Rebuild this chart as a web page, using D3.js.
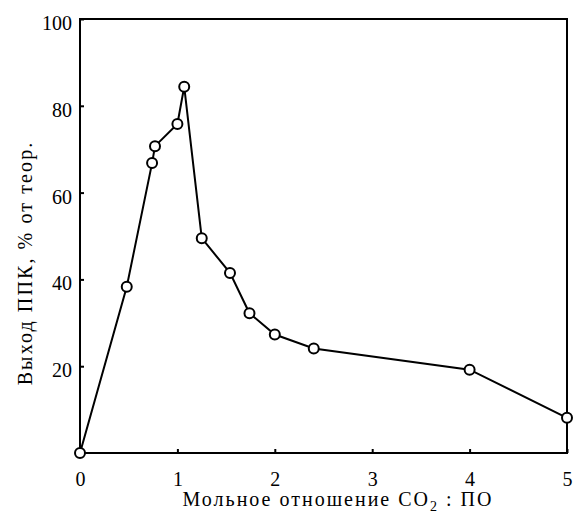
<!DOCTYPE html>
<html>
<head>
<meta charset="utf-8">
<script src="https://cdn.jsdelivr.net/npm/d3@7"></script>
<style>
  body { margin: 0; background: #fff; }
</style>
</head>
<body>
<div id="chart"></div>
<script>
// Мольное отношение CO2 : ПО
const ratio = [0, 0.48, 0.74, 0.77, 1.0, 1.07, 1.25, 1.54, 1.74, 2.0, 2.4, 4.0, 5.0];
// Выход ППК, % от теор.
const yieldPct = [0, 38.3, 66.8, 70.7, 75.8, 84.4, 49.5, 41.5, 32.2, 27.3, 24.1, 19.2, 8.1];
const xTicks = [0, 1, 2, 3, 4, 5];
const yTicks = [20, 40, 60, 80, 100];

const width = 576, height = 520;
const margin = { top: 19, right: 9, bottom: 67, left: 80 };
const serif = "Liberation Serif";

const svg = d3.select("#chart").append("svg")
  .attr("width", width)
  .attr("height", height);

const x = d3.scaleLinear().domain([0, 5]).range([margin.left, width - margin.right]);
const y = d3.scaleLinear().domain([0, 100]).range([height - margin.bottom, margin.top]);

// рамка
svg.append("rect")
  .attr("x", x(0))
  .attr("y", y(100))
  .attr("width", x(5) - x(0))
  .attr("height", y(0) - y(100))
  .attr("fill", "none")
  .attr("stroke", "#000")
  .attr("stroke-width", 2);

// ось X, засечки внутрь
const xAxis = svg.append("g")
  .attr("transform", "translate(0," + y(0) + ")")
  .call(d3.axisBottom(x).tickValues(xTicks).tickSize(-4).tickPadding(19).tickFormat(d3.format("d")));
xAxis.attr("font-family", serif).attr("font-size", 20);
xAxis.select(".domain").remove();
xAxis.selectAll("line").attr("stroke-width", 2);
xAxis.selectAll("text").attr("font-family", serif).attr("font-size", 20);

// ось Y
const yAxis = svg.append("g")
  .attr("transform", "translate(" + x(0) + ",0)")
  .call(d3.axisLeft(y).tickValues(yTicks).tickSize(-4).tickPadding(8).tickFormat(d3.format("d")));
yAxis.attr("font-family", serif).attr("font-size", 20);
yAxis.select(".domain").remove();
yAxis.selectAll("line").attr("stroke-width", 2);
yAxis.selectAll("text").attr("font-family", serif).attr("font-size", 20).attr("dy", "0.52em");

// подписи осей
const xLabel = svg.append("text")
  .attr("x", 338)
  .attr("y", 506)
  .attr("text-anchor", "middle")
  .attr("font-family", serif)
  .attr("font-size", 20)
  .attr("letter-spacing", 2);
xLabel.append("tspan").text("Мольное отношение CO");
xLabel.append("tspan").attr("font-size", 14).attr("dy", 5).text("2");
xLabel.append("tspan").attr("dy", -5).text(" : ПО");

svg.append("text")
  .attr("transform", "translate(32,263) rotate(-90)")
  .attr("text-anchor", "middle")
  .attr("font-family", serif)
  .attr("font-size", 20)
  .attr("letter-spacing", 2.1)
  .text("Выход ППК, % от теор.");

// линия данных
const line = d3.line()
  .x((d, i) => x(ratio[i]))
  .y(d => y(d));

svg.append("path")
  .datum(yieldPct)
  .attr("d", line)
  .attr("fill", "none")
  .attr("stroke", "#000")
  .attr("stroke-width", 2);

svg.selectAll("circle")
  .data(yieldPct)
  .enter()
  .append("circle")
  .attr("cx", (d, i) => x(ratio[i]))
  .attr("cy", d => y(d))
  .attr("r", 5)
  .attr("fill", "#fff")
  .attr("stroke", "#000")
  .attr("stroke-width", 2);
</script>
</body>
</html>
